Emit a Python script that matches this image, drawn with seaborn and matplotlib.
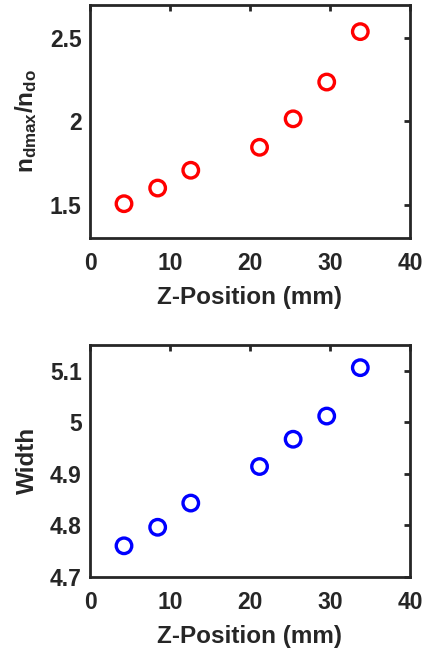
import matplotlib
matplotlib.use("Agg")
import matplotlib.pyplot as plt
import seaborn as sns
import pandas as pd
from matplotlib.ticker import FormatStrFormatter

# Data
z_pos = [4.25, 8.46, 12.6, 21.2, 25.4, 29.6, 33.8]
n_ratio = [1.506, 1.600, 1.707, 1.845, 2.016, 2.237, 2.540]
width = [4.760, 4.796, 4.843, 4.914, 4.967, 5.012, 5.106]

x_ticks = [0, 10, 20, 30, 40]
ratio_ticks = [1.5, 2, 2.5]
width_ticks = [4.7, 4.8, 4.9, 5.0, 5.1]

sns.set_style("white")
plt.rcParams["font.family"] = ["Liberation Sans", "DejaVu Sans"]
plt.rcParams["font.weight"] = "bold"
plt.rcParams["mathtext.fontset"] = "custom"
plt.rcParams["mathtext.bf"] = "Liberation Sans:bold"
plt.rcParams["mathtext.rm"] = "Liberation Sans:bold"

ink = "#262626"
df = pd.DataFrame({"z": z_pos, "ratio": n_ratio, "width": width})

fig = plt.figure(figsize=(4.22, 6.49), dpi=100)
ax1 = fig.add_axes([0.2133, 0.6333, 0.758, 0.359])
ax2 = fig.add_axes([0.2133, 0.1114, 0.758, 0.357])


def style_axes(ax, yticks, ylim, ylabel):
    ax.set_xlim(0, 40)
    ax.set_ylim(*ylim)
    ax.set_xticks(x_ticks)
    ax.set_yticks(yticks)
    ax.yaxis.set_major_formatter(FormatStrFormatter("%g"))
    ax.tick_params(direction="in", length=4, width=2, colors=ink,
                   labelsize=16.5, top=True, right=True, labelcolor=ink)
    ax.tick_params(axis="x", pad=10)
    ax.tick_params(axis="y", pad=6)
    for lab in ax.get_xticklabels() + ax.get_yticklabels():
        lab.set_fontweight("bold")
    for sp in ax.spines.values():
        sp.set_linewidth(2)
        sp.set_color(ink)
    ax.set_xlabel("Z-Position (mm)", fontsize=17.5, fontweight="bold",
                  color=ink, labelpad=8)
    ax.set_ylabel(ylabel, fontsize=17.5, fontweight="bold", color=ink)
    ax.yaxis.set_label_coords(-0.16, 0.5)


sns.scatterplot(data=df, x="z", y="ratio", ax=ax1, marker="o",
                facecolor="none", edgecolor="red", linewidth=2.4, s=125)
style_axes(ax1, ratio_ticks, (1.3, 2.7), r"$\mathbf{n_{dmax}/n_{do}}$")

sns.scatterplot(data=df, x="z", y="width", ax=ax2, marker="o",
                facecolor="none", edgecolor="blue", linewidth=2.4, s=125)
style_axes(ax2, width_ticks, (4.7, 5.15), "Width")

fig.savefig("out.png", dpi=100)
